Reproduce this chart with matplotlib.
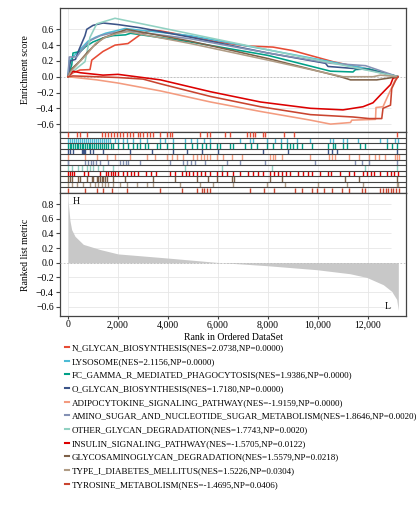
import matplotlib
matplotlib.use("Agg")
import matplotlib.pyplot as plt
import numpy as np
from matplotlib.lines import Line2D

plt.rcParams['font.family'] = ['Liberation Serif', 'DejaVu Serif']

names = ["N_GLYCAN_BIOSYNTHESIS(NES=2.0738,NP=0.0000)",
         "LYSOSOME(NES=2.1156,NP=0.0000)",
         "FC_GAMMA_R_MEDIATED_PHAGOCYTOSIS(NES=1.9386,NP=0.0000)",
         "O_GLYCAN_BIOSYNTHESIS(NES=1.7180,NP=0.0000)",
         "ADIPOCYTOKINE_SIGNALING_PATHWAY(NES=-1.9159,NP=0.0000)",
         "AMINO_SUGAR_AND_NUCLEOTIDE_SUGAR_METABOLISM(NES=1.8646,NP=0.0020)",
         "OTHER_GLYCAN_DEGRADATION(NES=1.7743,NP=0.0020)",
         "INSULIN_SIGNALING_PATHWAY(NES=-1.5705,NP=0.0122)",
         "GLYCOSAMINOGLYCAN_DEGRADATION(NES=1.5579,NP=0.0218)",
         "TYPE_I_DIABETES_MELLITUS(NES=1.5226,NP=0.0304)",
         "TYROSINE_METABOLISM(NES=-1.4695,NP=0.0406)"]

colors = ["#E64B35", "#4DBBD5", "#00A087", "#3C5488", "#F39B7F", "#8491B4",
          "#91D1C2", "#DC0000", "#7E6148", "#B09C85", "#C9442F"]

# Running enrichment score curves (rank, ES)
es_x = [
    [0, 200, 480, 880, 950, 1400, 1880, 2400, 2880, 3280, 3700, 4900, 6000, 7150, 8200, 9000, 10600, 11950, 13200],
    [0, 50, 200, 500, 800, 1100, 1500, 1900, 2280, 4900, 8000, 10500, 12000, 13200],
    [0, 150, 200, 500, 700, 1000, 1400, 1800, 2300, 2500, 4900, 8000, 10500, 11400, 11500, 12000, 13200],
    [0, 100, 300, 450, 680, 750, 1000, 1400, 2000, 2880, 4900, 8000, 10300, 10400, 12000, 13200],
    [0, 1150, 2000, 3700, 5700, 7700, 9700, 10500, 11300, 11350, 12300, 12320, 12600, 12800, 13000, 13150],
    [0, 50, 350, 600, 900, 1300, 1700, 2100, 2450, 4900, 8000, 10500, 11900, 13200],
    [0, 150, 400, 680, 880, 1150, 1880, 8000, 12000, 13200],
    [0, 200, 500, 1400, 2000, 3700, 5700, 7700, 9700, 11000, 11400, 11800, 12200, 12500, 12900, 13000, 13200],
    [0, 150, 480, 750, 1000, 1400, 1900, 2350, 4900, 8000, 10900, 11300, 12350, 13200],
    [0, 150, 500, 800, 1100, 1500, 2000, 2400, 4900, 8000, 11000, 12200, 12500, 13200],
    [0, 200, 2000, 3000, 3700, 5700, 7700, 9700, 11400, 12050, 12550, 12600, 12900, 12950, 13100, 13200],
]
es_y = [
    [0, 0.05, 0.085, 0.09, 0.21, 0.32, 0.40, 0.42, 0.53, 0.59, 0.58, 0.51, 0.44, 0.39, 0.375, 0.33, 0.19, 0.10, 0],
    [0, 0.20, 0.25, 0.35, 0.45, 0.50, 0.55, 0.58, 0.61, 0.52, 0.34, 0.19, 0.10, 0],
    [0, 0.15, 0.30, 0.32, 0.38, 0.44, 0.49, 0.52, 0.53, 0.55, 0.44, 0.27, 0.07, 0.06, 0.09, 0.10, 0],
    [0, 0.20, 0.22, 0.35, 0.52, 0.60, 0.65, 0.68, 0.66, 0.62, 0.50, 0.30, 0.17, 0.13, 0.09, 0],
    [0, -0.04, -0.08, -0.18, -0.32, -0.44, -0.55, -0.60, -0.58, -0.55, -0.54, -0.39, -0.38, -0.24, -0.10, 0],
    [0, 0.25, 0.25, 0.36, 0.46, 0.52, 0.55, 0.57, 0.58, 0.48, 0.30, 0.17, 0.14, 0],
    [0, 0.05, 0.12, 0.19, 0.50, 0.67, 0.74, 0.34, 0.08, 0],
    [0, 0.07, 0.05, 0.02, 0.03, -0.04, -0.19, -0.32, -0.40, -0.42, -0.40, -0.38, -0.33, -0.23, -0.10, -0.02, 0],
    [0, 0.10, 0.20, 0.30, 0.38, 0.49, 0.55, 0.60, 0.45, 0.23, 0.0, -0.04, -0.04, 0],
    [0, 0.08, 0.20, 0.30, 0.42, 0.50, 0.55, 0.57, 0.42, 0.21, 0.0, 0.0, 0.02, 0],
    [0, 0.01, -0.01, -0.03, -0.09, -0.25, -0.38, -0.48, -0.51, -0.53, -0.53, -0.40, -0.36, -0.15, -0.05, 0],
]

# Hit positions (rank) for each gene set
hits = [
    [12, 360, 480, 760, 1360, 1480, 1600, 1720, 1840, 1960, 2080, 2200, 2360, 2480, 2600, 2800, 2880, 3000,
     3160, 3280, 3400, 3680, 3960, 4080, 4160, 5280, 5560, 5680, 6280, 6480, 7160, 7280, 7400, 7480, 7800,
     7880, 8640, 9040, 13160],
    [0, 80, 160, 240, 320, 400, 480, 560, 640, 720, 800, 880, 960, 1040, 1120, 1200, 1280, 1360, 1440, 1520,
     1600, 1680, 1880, 2000, 2200, 2360, 2600, 2880, 3160, 3680, 3880, 4200, 4680, 4900, 5150, 5450, 5680,
     6880, 7280, 7400, 7960, 8280, 8500, 8760, 9160, 9680, 10480, 10600, 11000, 11160, 11600, 12480, 12760,
     13080, 13200],
    [0, 60, 130, 200, 270, 340, 400, 470, 540, 600, 680, 740, 820, 880, 950, 1020, 1100, 1180, 1260, 1340,
     1420, 1500, 1600, 1700, 1800, 2013, 2213, 2413, 2613, 2747, 2880, 3080, 3213, 3547, 3680, 3947, 4213,
     4680, 4947, 5147, 5350, 5500, 5680, 5947, 6080, 6480, 6613, 7080, 7300, 7547, 7947, 8213, 8500, 8747,
     8880, 9013, 9147, 9347, 9747, 10413, 10613, 10680, 11013, 11147, 11680, 11880, 12747, 12947, 13147],
    [13, 80, 213, 547, 600, 640, 680, 880, 1013, 1413, 2480, 3347, 4213, 4747, 5347, 6013, 7813, 8813,
     10413, 10547, 10747, 13150],
    [0, 680, 1147, 1547, 1880, 2480, 3147, 3480, 3947, 4147, 4347, 4613, 5000, 5150, 5300, 5450, 5550, 5680,
     5947, 6213, 6547, 6960, 8080, 8180, 8280, 8560, 9680, 10440, 10560, 10680, 11240, 11640, 12040, 12280,
     12440, 12680, 13080, 13160, 13240],
    [0, 13, 680, 800, 900, 1000, 1120, 1280, 1613, 2080, 2200, 2300, 2413, 2880, 4080, 4613, 4750, 4900,
     5080, 5480, 6347, 6893, 7893, 9893, 11493, 11760, 12027, 13150],
    [13, 147, 413, 547, 747, 880, 1013, 1213, 1413, 1813, 4680, 6147, 8160, 11880, 13160],
    [0, 80, 160, 240, 640, 780, 1280, 1500, 1600, 1700, 1800, 1880, 2000, 2200, 2360, 2500, 2640, 2800,
     3120, 3300, 3500, 4080, 4280, 4560, 4700, 4850, 5000, 5150, 5300, 5480, 5680, 5950, 6150, 6350, 6600,
     6880, 7210, 7400, 7600, 7800, 8080, 8250, 8400, 8550, 8700, 8880, 9200, 9400, 9600, 9760, 10080,
     10400, 10530, 10880, 11230, 11440, 11800, 11950, 12100, 12250, 12480, 12750, 12900, 13050, 13200],
    [0, 80, 147, 413, 480, 747, 947, 1013, 1147, 1213, 1280, 1347, 1413, 1480, 1547, 1813, 2280, 3413,
     4280, 5147, 5613, 5947, 6547, 6627, 8093, 8547, 11093, 11627, 13160],
    [13, 147, 347, 613, 880, 1080, 1213, 1347, 1480, 1613, 1813, 2080, 2347, 2747, 3147, 3413, 4480, 5280,
     5813, 6613, 7947, 8680, 10013, 11147, 11813, 13147, 13213],
    [13, 680, 1147, 1413, 1747, 2347, 3680, 4547, 5147, 5350, 5450, 5550, 5680, 7293, 7827, 8227, 9080,
     9347, 9760, 9960, 10227, 10560, 10960, 11227, 11760, 11893, 12493, 12600, 12700, 12800, 12900, 13000,
     13100, 13227],
]

# Ranked list metric (rank, value)
rank_x = [0, 30, 80, 147, 280, 613, 1280, 2000, 3947, 5947, 7947, 9947, 11280, 11947, 12613, 12947, 13147, 13213]
rank_y = [0.85, 0.75, 0.57, 0.45, 0.36, 0.25, 0.18, 0.12, 0.065, 0.005, -0.04, -0.095, -0.15, -0.20, -0.30, -0.39, -0.50, -0.65]

xticks = [0, 2000, 4000, 6000, 8000, 10000, 12000]
es_ticks = [-0.6, -0.4, -0.2, 0.0, 0.2, 0.4, 0.6]
rank_ticks = [-0.6, -0.4, -0.2, 0.0, 0.2, 0.4, 0.6, 0.8]

W, H = 416, 505
fig = plt.figure(figsize=(W / 100, H / 100), dpi=100)

def box(l, t, r, b):
    return [l / W, 1 - b / H, (r - l) / W, (b - t) / H]

ax1 = fig.add_axes(box(60, 8, 406, 132))
ax2 = fig.add_axes(box(60, 132, 406, 193))
ax3 = fig.add_axes(box(60, 193, 406, 316))

XL = (-320, 13520)
grid_c = "#e6e6e6"
edge_c = "#444444"

for ax in (ax1, ax2, ax3):
    ax.set_xlim(*XL)
    for xt in xticks:
        ax.axvline(xt, color=grid_c, lw=0.6, zorder=0)
    for s in ax.spines.values():
        s.set_color(edge_c)
        s.set_linewidth(0.9)

# Top: ES curves
ax1.set_ylim(-0.70, 0.87)
for yt in es_ticks:
    ax1.hlines(yt, 0, 12900, color=grid_c, lw=0.6, zorder=0)
ax1.axhline(0, color="#bbbbbb", lw=0.6, ls=(0, (2, 2)), zorder=1)
handles = []
for i in range(len(names)):
    ax1.plot(es_x[i], es_y[i], color=colors[i], lw=1.15, zorder=3)
    handles.append(Line2D([0], [0], color=colors[i], lw=1.5))
ax1.set_xticks([])
ax1.set_yticks(es_ticks)
ax1.set_yticklabels(["\u22120.6", "\u22120.4", "\u22120.2", "0.0", "0.2", "0.4", "0.6"])
ax1.tick_params(axis='y', labelsize=7, length=3, width=0.8, pad=1.5, color=edge_c)
ax1.set_ylabel("Enrichment score", fontsize=7, labelpad=4)

# Middle: hit rug
n = len(names)
ax2.set_ylim(n, 0)
for i in range(n):
    ax2.vlines(hits[i], i + 0.02, i + 0.98, color=colors[i], lw=1.0, zorder=3)
for i in range(1, n):
    ax2.axhline(i, color=edge_c, lw=0.8, zorder=4)
ax2.set_xticks([])
ax2.set_yticks([])

# Bottom: ranked list metric
ax3.set_ylim(-0.726, 0.95)
for yt in rank_ticks:
    ax3.hlines(yt, 0, 12900, color=grid_c, lw=0.6, zorder=0)
ax3.fill_between(rank_x, rank_y, 0, color="#c8c8c8", lw=0, zorder=2)
ax3.axhline(0, color="#bbbbbb", lw=0.6, ls=(0, (2, 2)), zorder=3)
ax3.set_xticks(xticks)
ax3.set_xticklabels([f"{v:,}" for v in xticks])
ax3.set_yticks(rank_ticks)
ax3.set_yticklabels(["\u22120.6", "\u22120.4", "\u22120.2", "0.0", "0.2", "0.4", "0.6", "0.8"])
ax3.tick_params(axis='y', labelsize=7, length=3, width=0.8, pad=1.5, color=edge_c)
ax3.tick_params(axis='x', labelsize=7, length=2.5, width=0.8, pad=0.5, color=edge_c)
ax3.set_ylabel("Ranked list metric", fontsize=7, labelpad=4)
ax3.set_xlabel("Rank in Ordered DataSet", fontsize=7, labelpad=3)
ax3.text(200, 0.83, "H", fontsize=7, va="center", ha="left")
ax3.text(12900, -0.60, "L", fontsize=7, va="center", ha="right")

fig.legend(handles, names, loc="upper left", bbox_to_anchor=(65 / W, 1 - 344 / H),
           frameon=False, fontsize=6.45, handlelength=0.45, handletextpad=0.3,
           labelspacing=0.6, borderpad=0, borderaxespad=0)

fig.savefig("out.png", dpi=100)
